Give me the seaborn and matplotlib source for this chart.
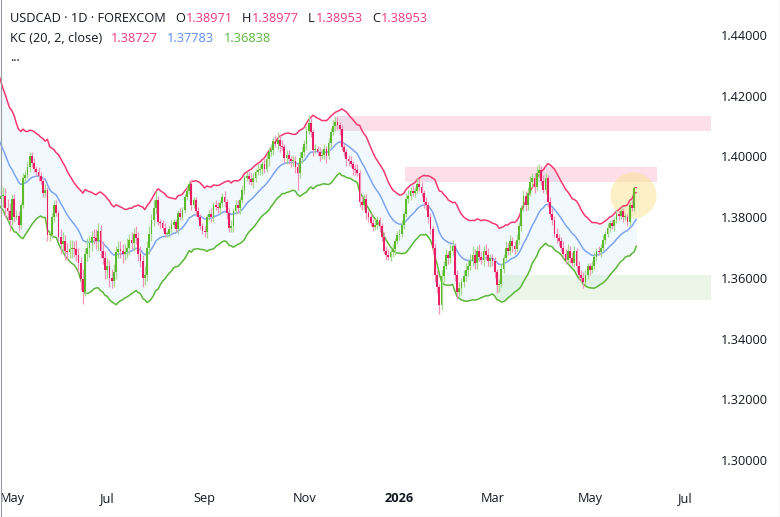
import numpy as np
import pandas as pd
import matplotlib
matplotlib.use("Agg")
import matplotlib.pyplot as plt
import matplotlib.transforms as mtransforms
import seaborn as sns

# USDCAD daily closes in 1/10000 above 1.0 (3870 -> 1.3870), one row per month.
# March/April 2025 are only there to warm up the Keltner channel (off screen).
close_pips = [
    4470, 4490, 4340, 4310, 4370, 4470, 4430, 4400, 4410, 4340, 4330, 4310, 4340, 4340, 4330, 4330, 4290, 4260, 4270, 4310, 4390,
    4310, 4290, 4230, 4300, 4280, 4330, 4200, 4100, 4000, 3950, 3920, 3900, 3890, 3885, 3860, 3870, 3860, 3870, 3870, 3830, 3820, 3790,
    3860, 3800, 3805, 3775, 3840, 3930, 3940, 3965, 4000, 3980, 3960, 3950, 3935, 3920, 3880, 3890, 3740, 3740, 3800, 3840, 3815, 3735,
    3710, 3720, 3690, 3685, 3695, 3700, 3695, 3675, 3650, 3595, 3555, 3680, 3700, 3715, 3735, 3730, 3720, 3755, 3690, 3665, 3625,
    3640, 3600, 3590, 3620, 3685, 3695, 3690, 3680, 3685, 3700, 3725, 3715, 3745, 3730, 3680, 3655, 3600, 3610, 3700, 3745, 3790, 3830, 3855,
    3785, 3780, 3765, 3745, 3745, 3760, 3775, 3785, 3760, 3815, 3800, 3825, 3865, 3885, 3910, 3840, 3855, 3820, 3800, 3770, 3755,
    3750, 3800, 3810, 3800, 3840, 3835, 3830, 3845, 3865, 3850, 3815, 3765, 3770, 3820, 3840, 3830, 3855, 3890, 3930, 3935, 3925, 3915,
    3930, 3950, 3955, 3960, 3975, 3960, 3990, 4015, 4020, 4050, 4040, 4055, 4035, 4030, 3995, 4005, 3990, 3985, 3985, 3965, 3945, 3995, 4015,
    4040, 4085, 4110, 4080, 4020, 4025, 4015, 4000, 4005, 4025, 4000, 4045, 4080, 4100, 4115, 4105, 4090, 4030, 4015, 3990,
    3985, 3975, 3960, 3955, 3945, 3850, 3840, 3860, 3815, 3800, 3780, 3768, 3775, 3790, 3770, 3735, 3690, 3675, 3670, 3685, 3695, 3720, 3740,
    3745, 3775, 3810, 3860, 3870, 3885, 3880, 3885, 3910, 3900, 3880, 3850, 3840, 3800, 3760, 3700, 3610, 3570, 3510, 3605, 3640, 3675,
    3665, 3690, 3705, 3610, 3555, 3565, 3585, 3605, 3625, 3640, 3655, 3675, 3650, 3690, 3670, 3660, 3690, 3675, 3655, 3665,
    3655, 3620, 3575, 3580, 3630, 3665, 3700, 3690, 3720, 3705, 3695, 3725, 3770, 3830, 3870, 3840, 3880, 3915, 3930, 3900, 3945, 3955,
    3920, 3890, 3930, 3850, 3810, 3790, 3745, 3730, 3720, 3700, 3680, 3660, 3690, 3665, 3650, 3690, 3640, 3610, 3600, 3585, 3610, 3640,
    3625, 3640, 3670, 3690, 3685, 3700, 3725, 3745, 3765, 3780, 3770, 3790, 3810, 3805, 3820, 3800, 3800, 3785, 3840, 3830, 3897.1,
    3895.3,
]
# wick lengths above / below the body, in pips
upper_wick = [
    30, 25, 40, 20, 35, 30, 25, 20, 30, 15, 20, 25, 30, 20, 15, 25, 20, 15, 30, 25, 40,
    40, 40, 80, 70, 90, 60, 70, 50, 40, 20, 25, 30, 35, 20, 30, 35, 35, 35, 30, 25, 30, 25,
    15, 15, 20, 15, 10, 15, 15, 20, 15, 15, 15, 10, 15, 15, 10, 20, 10, 15, 15, 15, 15, 10,
    25, 30, 20, 25, 30, 25, 20, 30, 25, 20, 35, 20, 30, 25, 20, 25, 30, 25, 20, 30, 25,
    25, 20, 30, 25, 20, 25, 25, 20, 25, 30, 20, 25, 20, 25, 20, 25, 20, 30, 20, 25, 20, 25, 30,
    15, 10, 10, 15, 10, 10, 15, 10, 10, 10, 15, 10, 10, 15, 10, 15, 10, 10, 15, 10, 10,
    15, 10, 15, 20, 10, 15, 15, 10, 15, 20, 10, 15, 20, 10, 15, 15, 10, 15, 10, 15, 15, 20,
    15, 10, 20, 15, 10, 15, 20, 15, 20, 15, 20, 25, 15, 20, 10, 15, 15, 10, 20, 15, 15, 20, 15,
    15, 15, 25, 15, 10, 15, 10, 15, 20, 15, 10, 15, 15, 20, 15, 15, 10, 15, 15, 10,
    15, 15, 10, 15, 20, 10, 20, 15, 15, 10, 15, 15, 20, 15, 10, 10, 15, 15, 20, 15, 15, 10, 15,
    15, 15, 10, 15, 20, 15, 20, 15, 20, 15, 15, 10, 15, 10, 15, 10, 15, 15, 10, 20, 15, 20,
    15, 20, 20, 10, 15, 20, 15, 20, 25, 20, 25, 30, 20, 15, 20, 20, 15, 20, 25, 15,
    15, 15, 10, 15, 20, 15, 20, 15, 20, 15, 15, 20, 15, 10, 20, 15, 20, 20, 15, 15, 25, 20,
    15, 20, 15, 10, 15, 20, 15, 20, 15, 15, 20, 15, 20, 15, 20, 15, 10, 15, 15, 20, 15, 10,
    10, 15, 15, 10, 15, 10, 15, 10, 15, 10, 15, 10, 15, 10, 15, 10, 15, 10, 10, 15, 5,
    0.6,
]
lower_wick = [
    25, 30, 20, 35, 25, 20, 30, 25, 20, 30, 25, 20, 15, 25, 20, 20, 25, 30, 20, 15, 20,
    40, 40, 70, 60, 100, 50, 60, 50, 40, 20, 25, 30, 35, 20, 30, 35, 30, 30, 35, 30, 30, 35,
    15, 15, 10, 20, 15, 10, 15, 10, 15, 15, 10, 15, 15, 10, 15, 15, 20, 20, 10, 15, 10, 15,
    30, 25, 30, 25, 20, 30, 25, 20, 30, 35, 40, 15, 25, 30, 25, 20, 25, 30, 25, 20, 30,
    25, 30, 25, 20, 25, 20, 25, 30, 20, 20, 25, 20, 25, 20, 25, 20, 30, 25, 20, 20, 25, 20, 20,
    10, 15, 10, 10, 10, 10, 10, 10, 10, 15, 10, 10, 10, 10, 10, 15, 10, 15, 10, 10, 10,
    15, 20, 10, 15, 15, 10, 15, 20, 10, 15, 20, 15, 15, 20, 10, 15, 20, 10, 15, 10, 15, 10,
    20, 15, 10, 15, 20, 15, 10, 20, 15, 15, 10, 15, 20, 10, 15, 20, 15, 20, 15, 20, 55, 15, 15,
    15, 20, 10, 15, 20, 10, 15, 15, 10, 15, 20, 10, 15, 10, 15, 15, 20, 10, 15, 20,
    15, 10, 20, 15, 10, 15, 15, 15, 20, 15, 10, 15, 10, 15, 20, 15, 10, 15, 10, 15, 15, 20, 10,
    15, 10, 15, 10, 15, 15, 10, 15, 10, 15, 15, 20, 15, 20, 15, 20, 25, 20, 30, 15, 20, 10,
    20, 15, 15, 20, 25, 15, 20, 15, 15, 20, 15, 15, 20, 20, 15, 15, 20, 15, 15, 20,
    15, 20, 25, 20, 10, 15, 10, 15, 15, 20, 15, 10, 15, 15, 10, 20, 15, 10, 15, 20, 10, 15,
    15, 10, 15, 15, 10, 15, 10, 15, 15, 10, 15, 15, 10, 15, 10, 15, 20, 15, 15, 20, 10, 15,
    15, 10, 10, 15, 10, 15, 10, 15, 10, 15, 10, 15, 10, 15, 10, 15, 10, 15, 15, 10, 10,
    0,
]
first_day = "2025-03-03"

ohlc_header = [("O", "1.38971"), ("H", "1.38977"), ("L", "1.38953"), ("C", "1.38953")]
kc_header = ["1.38727", "1.37783", "1.36838"]
price_ticks = [1.30, 1.32, 1.34, 1.36, 1.38, 1.40, 1.42, 1.44]
month_ticks = [("2025-05-01", "May"), ("2025-07-01", "Jul"), ("2025-09-01", "Sep"),
               ("2025-11-01", "Nov"), ("2026-01-01", "2026"), ("2026-03-01", "Mar"),
               ("2026-05-01", "May"), ("2026-07-01", "Jul")]
# drawn zones: first day, last day, low, high, kind
zones = [("2025-11-21", "2026-07-16", 1.4084, 1.4134, "res"),
         ("2026-01-06", "2026-06-12", 1.3916, 1.3966, "res"),
         ("2026-03-04", "2026-07-16", 1.3528, 1.3610, "sup")]
highlight_day, highlight_price = "2026-05-28", 1.3874

assert len(close_pips) == len(upper_wick) == len(lower_wick), (len(close_pips), len(upper_wick), len(lower_wick))
days = pd.bdate_range(first_day, periods=len(close_pips))
assert days[-1] == pd.Timestamp("2026-06-01"), days[-1]
calendar = pd.bdate_range(first_day, "2026-09-30")


def pos(day):
    return int(np.searchsorted(calendar, pd.Timestamp(day)))


close = pd.Series(close_pips, dtype=float) / 10000 + 1
opn = close.shift(1)
opn.iloc[0] = close.iloc[0]
opn.iloc[-1] = 1.38971
high = np.maximum(opn, close) + np.array(upper_wick) / 10000
low = np.minimum(opn, close) - np.array(lower_wick) / 10000
x = np.arange(len(close))

# Keltner channel (20, 2, close), ATR(10) bands
prev = close.shift(1)
tr = pd.concat([high - low, (high - prev).abs(), (low - prev).abs()], axis=1).max(axis=1)
atr = tr.ewm(alpha=1 / 10, adjust=False).mean()
mid = close.ewm(span=20, adjust=False).mean()
upper = mid + 2 * atr
lower = mid - 2 * atr

sns.set_theme(style="white")
plt.rcParams["font.family"] = ["Open Sans", "DejaVu Sans"]
dark = "#131722"
pink = "#f23b76"
blue = "#5b8def"
green = "#58b83b"

fig = plt.figure(figsize=(7.8, 5.17), dpi=100)
ax = fig.add_axes([0, 29 / 517, 712 / 780, 488 / 517])
bar_px = 2.214
x_left = pos("2025-05-01") - 12 / bar_px
ax.set_xlim(x_left, x_left + 712 / bar_px)
ax.set_ylim(1.29078, 1.45153)

ax.fill_between(x, lower, upper, color="#2196f3", alpha=0.055, lw=0, zorder=1)
for start, end, lo, hi, kind in zones:
    col, alpha = ("#f06292", 0.2) if kind == "res" else ("#66bb44", 0.12)
    ax.fill_between([pos(start) - 0.5, pos(end) + 0.5], lo, hi, color=col, alpha=alpha, lw=0, zorder=1.5)
ax.scatter([pos(highlight_day) + 0.5], [highlight_price], s=1100, color="#fbe38e",
           alpha=0.5, linewidths=0, zorder=2)

kc = pd.DataFrame({"x": x, "upper": upper, "mid": mid, "lower": lower}).melt("x")
sns.lineplot(data=kc, x="x", y="value", hue="variable", estimator=None, sort=False,
             palette={"upper": "#f5396f", "mid": "#7ea4f3", "lower": "#5cb836"},
             lw=1.1, legend=False, ax=ax, zorder=3)

up = (close >= opn).to_numpy()
ax.vlines(x, low, high, colors=np.where(up, "#a6d98c", "#f195b9"), lw=0.9, zorder=4)
body = np.maximum((close - opn).abs(), 0.0003)
ax.bar(x, body, bottom=np.minimum(opn, close), width=0.8,
       color=np.where(up, "#5cbb2c", "#e91e63"), lw=0, zorder=5)

ax.set_yticks(price_ticks)
ax.set_yticklabels([f"{v:.5f}" for v in price_ticks])
ax.yaxis.tick_right()
ax.tick_params(axis="y", length=0, pad=6, labelsize=9.2, labelcolor=dark)
ax.set_xticks([pos(d) for d, _ in month_ticks])
ax.set_xticklabels([lab for _, lab in month_ticks])
ax.tick_params(axis="x", length=0, pad=3, labelsize=9.2, labelcolor=dark)
ax.get_xticklabels()[4].set_fontweight("bold")
ax.set_xlabel("")
ax.set_ylabel("")
for s in ax.spines.values():
    s.set_visible(False)

# legend rows at the top left
renderer = fig.canvas.get_renderer()
px = mtransforms.IdentityTransform()


def write_row(parts, x0, baseline):
    xx = x0
    for text, color, gap in parts:
        t = fig.text(xx, 517 - baseline, text, color=color, fontsize=9.2,
                     transform=px, va="baseline", ha="left")
        xx = t.get_window_extent(renderer).x1 + gap


row1 = [("USDCAD · 1D · FOREXCOM", dark, 9)]
for letter, val in ohlc_header:
    row1 += [(letter, dark, 1), (val, pink, 9)]
write_row(row1, 10, 22)
write_row([("KC (20, 2, close)", dark, 9), (kc_header[0], pink, 9),
           (kc_header[1], blue, 9), (kc_header[2], green, 0)], 10, 42)
write_row([("...", dark, 0)], 10, 61)

# thin frame on the left, right and bottom edges of the screenshot
for xs, ys in [([0.5, 0.5], [0, 517]), ([779.5, 779.5], [0, 517]), ([0, 780], [0.5, 0.5])]:
    fig.add_artist(plt.Line2D(xs, ys, transform=px, color="#9a9ca3", lw=0.8))

fig.savefig("out.png", dpi=100)
